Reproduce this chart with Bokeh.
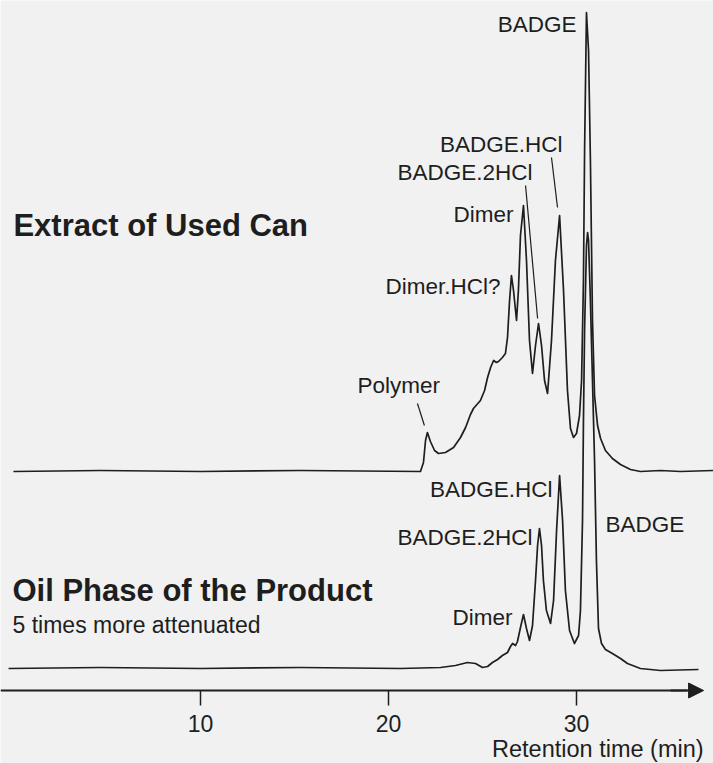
from bokeh.plotting import figure
from bokeh.models import (Range1d, LinearAxis, FixedTicker, Arrow, NormalHead,
                          ColumnDataSource, Label)
from bokeh.core.properties import value
from bokeh.embed import file_html
from bokeh.resources import INLINE

# ---------------- data (retention time in min, detector signal in arbitrary units) ----
upper_time = [0.05, 4.68, 10.0, 15.32, 21.70, 21.86, 21.97, 22.07, 22.23, 22.45, 22.66,
              23.03, 23.46, 23.83, 24.10, 24.36, 24.52, 24.89, 25.11, 25.27, 25.43, 25.59,
              25.74, 25.85, 26.06, 26.22, 26.33, 26.44, 26.54, 26.65, 26.81, 26.91, 27.02,
              27.18, 27.34, 27.50, 27.66, 27.82, 27.98, 28.14, 28.30, 28.46, 28.67, 28.88,
              29.10, 29.31, 29.52, 29.68, 29.84, 30.00, 30.16, 30.27, 30.37, 30.43, 30.53,
              30.64, 30.74, 30.85, 30.96, 31.12, 31.28, 31.54, 31.91, 32.34, 32.87, 33.40,
              34.47, 35.53, 37.29]
upper_signal = [0, 1, 0, 1, 0, 9, 31, 39, 30, 21, 18,
                19, 24, 34, 44, 57, 63, 71, 81, 94, 104, 111,
                109, 110, 114, 118, 134, 171, 196, 181, 151, 181, 236,
                266, 211, 131, 98, 126, 148, 126, 91, 78, 131, 211,
                256, 181, 81, 43, 34, 38, 56, 91, 191, 321, 459,
                421, 311, 151, 76, 46, 33, 21, 13, 7, 2, 0,
                1, 0, 1]

lower_time = [-0.21, 4.68, 10.0, 15.32, 20.64, 22.77, 23.56, 24.20, 24.63, 25.00, 25.27,
              25.53, 25.80, 26.06, 26.33, 26.49, 26.60, 26.76, 26.86, 27.02, 27.18, 27.34,
              27.50, 27.66, 27.82, 27.93, 28.03, 28.14, 28.24, 28.40, 28.62, 28.78, 28.94,
              29.10, 29.26, 29.41, 29.63, 29.89, 30.11, 30.21, 30.32, 30.37, 30.43, 30.53,
              30.59, 30.64, 30.74, 30.85, 30.96, 31.06, 31.17, 31.33, 31.54, 31.91, 32.34,
              32.71, 33.40, 34.47, 36.49]
lower_signal = [0, 1, 0, 1, 0, 1, 3, 6, 5, 1, 2,
                6, 9, 13, 16, 22, 25, 23, 27, 41, 54, 40,
                28, 43, 88, 123, 140, 123, 88, 58, 45, 68, 138,
                193, 148, 78, 38, 25, 33, 58, 148, 248, 338, 423,
                436, 428, 368, 288, 208, 108, 40, 25, 19, 15, 10,
                5, 0, -2, -1]

tick_values = [10, 20, 30]

# ---------------- layout constants ----------------
UPPER_OFFSET = 219
LOWER_OFFSET = 22
INK = "#1e1e1e"
PAPER = "#f1f1f1"
FONT = "Liberation Sans"

upper_y = [s + UPPER_OFFSET for s in upper_signal]
lower_y = [s + LOWER_OFFSET for s in lower_signal]

x0, x1 = -0.638, 37.287
p = figure(width=713, height=763, x_range=Range1d(x0, x1), y_range=Range1d(-73, 690),
           x_axis_type=None, y_axis_type=None, toolbar_location=None,
           output_backend="svg", min_border_left=0, min_border_right=0,
           min_border_top=0, min_border_bottom=0)
p.outline_line_color = None
p.background_fill_color = PAPER
p.border_fill_color = PAPER
p.xgrid.visible = False
p.ygrid.visible = False

p.line(upper_time, upper_y, line_color=INK, line_width=1.7, line_join="round")
p.line(lower_time, lower_y, line_color=INK, line_width=1.7, line_join="round")

# ---------------- axis (drawn at signal 0, inside the frame) ----------------
ax = LinearAxis(ticker=FixedTicker(ticks=tick_values, minor_ticks=[]),
                bounds=(x0, 35.9), fixed_location=0)
ax.axis_line_width = 2
ax.axis_line_color = INK
ax.major_tick_line_width = 1.5
ax.major_tick_line_color = INK
ax.major_tick_out = 15
ax.major_tick_in = 0
ax.minor_tick_out = 0
ax.minor_tick_in = 0
ax.major_label_text_font = FONT
ax.major_label_text_font_size = "23px"
ax.major_label_text_color = INK
ax.major_label_standoff = 9
p.add_layout(ax, "below")

p.add_layout(Arrow(end=NormalHead(size=15, fill_color=INK, line_color=INK),
                   x_start=35.0, y_start=0, x_end=36.76, y_end=0,
                   line_width=2, line_color=INK))

p.add_layout(Label(x=36.76, y=-58, text="Retention time (min)", text_align="right",
                   text_baseline="alphabetic", text_font=FONT,
                   text_font_size="23.5px", text_color=INK))

# ---------------- leader lines ----------------
p.segment(x0=[21.54, 27.29, 28.67], y0=[287, 505, 533],
          x1=[21.91, 27.93, 28.99], y1=[265, 372, 483],
          line_color=INK, line_width=1.2)

# ---------------- peak labels ----------------
right_labels = ColumnDataSource(dict(
    x=[30.0, 29.26, 27.66, 26.65, 25.96, 28.72, 27.66, 26.60],
    y=[666, 546, 518, 476, 404, 201, 153, 73],
    text=["BADGE", "BADGE.HCl", "BADGE.2HCl", "Dimer", "Dimer.HCl?",
          "BADGE.HCl", "BADGE.2HCl", "Dimer"]))
p.text(x="x", y="y", text="text", source=right_labels, text_align="right",
       text_baseline="alphabetic", text_font=value(FONT), text_font_size="22.5px",
       text_color=INK)

left_labels = ColumnDataSource(dict(
    x=[18.35, 31.54], y=[305, 166], text=["Polymer", "BADGE"]))
p.text(x="x", y="y", text="text", source=left_labels, text_align="left",
       text_baseline="alphabetic", text_font=value(FONT), text_font_size="22.5px",
       text_color=INK)

# ---------------- titles ----------------
p.text(x=[0.05, 0.0], y=[465, 100], text=["Extract of Used Can", "Oil Phase of the Product"],
       text_align="left", text_baseline="alphabetic", text_font=value(FONT),
       text_font_size="31px", text_font_style="bold", text_color=INK)
p.text(x=[0.0], y=[66], text=["5 times more attenuated"], text_align="left",
       text_baseline="alphabetic", text_font=value(FONT), text_font_size="23px",
       text_color=INK)

open("out.html", "w").write(file_html(p, INLINE))
